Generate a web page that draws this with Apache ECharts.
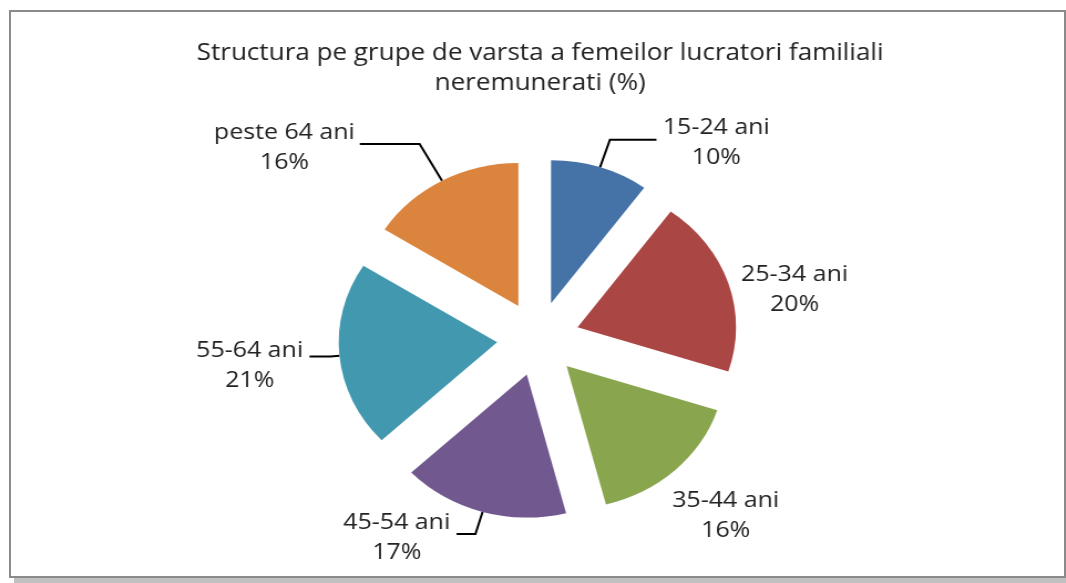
<!DOCTYPE html>
<html>
<head>
<meta charset="utf-8">
<title>Structura pe grupe de varsta</title>
<script src="https://cdn.jsdelivr.net/npm/echarts@6/dist/echarts.min.js"></script>
<style>
  html, body { margin: 0; padding: 0; background: #fff; }
  #wrap { position: relative; width: 1066px; height: 583px; overflow: hidden; }
  #frame {
    position: absolute; left: 9px; top: 10px; width: 1053px; height: 564px;
    border: 2px solid #8a8a8a; box-shadow: 5px 5px 0 #c0c0c0; background: #fff;
  }
  /* originalul e intins pe orizontala, deci si graficul */
  #chart {
    position: absolute; left: 0; top: 0; width: 975px; height: 583px;
    transform: scaleX(1.108); transform-origin: 0 0;
  }
</style>
</head>
<body>
<div id="wrap">
  <div id="frame"></div>
  <div id="chart"></div>
</div>
<script>
// grupe de varsta si procente
const categories = ['15-24 ani', '25-34 ani', '35-44 ani', '45-54 ani', '55-64 ani', 'peste 64 ani'];
const values = [10, 20, 16, 17, 21, 16];
const colors = ['#4572a7', '#aa4643', '#89a54e', '#71588f', '#4198af', '#db843d'];

// lungimile liniilor de eticheta, pe felie
const lineLen = [29, 3, 58, 23, 8, 42];
const lineLen2 = [42, 3, 0, 17, 19, 54];
const showLine = [true, false, false, true, true, true];
// mici deplasari ale textului etichetelor
const labelDx = [0, 0, -48, 0, 0, 0];
const labelDy = [3, 7, 3, 4, 9, 4];

const chart = echarts.init(document.getElementById('chart'));

const pieData = categories.map((name, i) => ({
  name: name,
  value: values[i],
  selected: true,
  label: {
    rich: { t: { width: name.length > 9 ? 126 : 98 } }
  },
  labelLine: { show: showLine[i], length: lineLen[i], length2: lineLen2[i] }
}));

const labelFont = {
  fontFamily: 'Open Sans',
  fontSize: 22.5,
  lineHeight: 30,
  color: '#222',
  align: 'center'
};

const option = {
  animation: false,
  color: colors,
  title: {
    text: 'Structura pe grupe de varsta a femeilor lucratori familiali\nneremunerati (%)',
    left: 'center',
    top: 33,
    textStyle: {
      fontFamily: 'Open Sans',
      fontSize: 23.5,
      fontWeight: 'normal',
      color: '#222',
      lineHeight: 30
    }
  },
  series: [
    {
      type: 'pie',
      center: [485.8, 338.8],
      radius: 143,
      startAngle: 90,
      clockwise: true,
      selectedMode: 'multiple',
      selectedOffset: 37.3,
      avoidLabelOverlap: false,
      silent: true,
      data: pieData,
      label: {
        show: true,
        position: 'outside',
        formatter: '{t|{b}}\n{t|{c}%}',
        rich: { t: labelFont }
      },
      labelLine: {
        show: true,
        lineStyle: { color: '#000', width: 2 }
      },
      labelLayout: function (params) {
        return { dx: labelDx[params.dataIndex], dy: labelDy[params.dataIndex] };
      }
    }
  ]
};

chart.setOption(option);
</script>
</body>
</html>
